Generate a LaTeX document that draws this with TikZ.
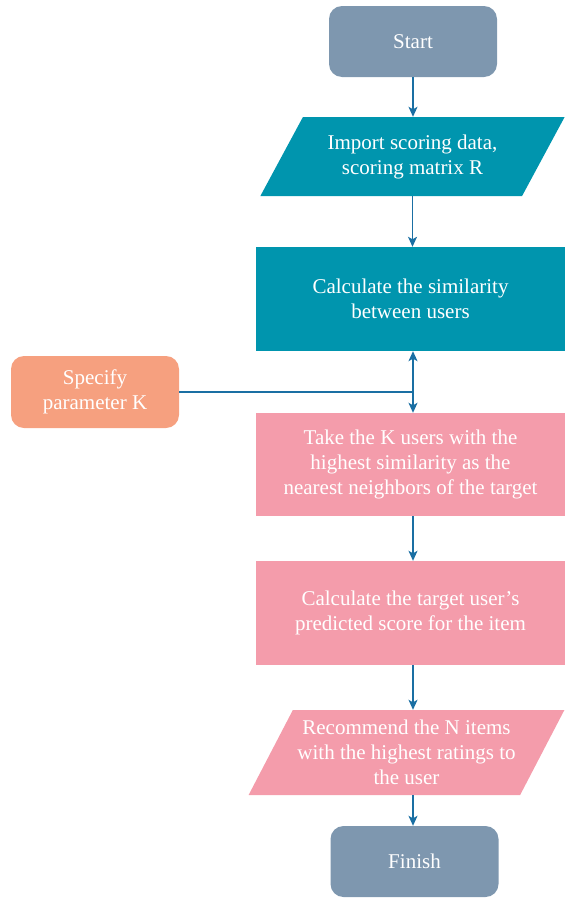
\documentclass[tikz,border=0pt]{standalone}
\usepackage{fontspec}
\setmainfont{Liberation Serif}
\usetikzlibrary{shapes.geometric,arrows.meta}
\definecolor{slate}{HTML}{7E97AF}
\definecolor{teal}{HTML}{0095AE}
\definecolor{salmon}{HTML}{F6A07F}
\definecolor{rose}{HTML}{F49CAB}
\definecolor{arrowblue}{HTML}{1A6FA3}
\begin{document}
\begin{tikzpicture}[x=1pt, y=-1pt, line join=round, >={Stealth[length=10pt,width=9pt,inset=2.5pt]},
  font=\fontsize{21}{25}\selectfont,
  term/.style={fill=slate, rounded corners=13pt, text=white, align=center, minimum width=168pt, minimum height=71pt},
  box/.style={text=white, align=center, minimum width=309pt, minimum height=104pt},
  io/.style={trapezium, trapezium stretches=true, text=white, align=center},
  flow/.style={draw=arrowblue, line width=1.4pt}]
 	\useasboundingbox (0,0) rectangle (565,900);
 	\node[term] (start) at (413,41.5) {Start};
 	\node[io, fill=teal, trapezium left angle=56, trapezium right angle=124,
 	  minimum width=305pt, minimum height=79pt] (import) at (412.5,156.5) {Import scoring data,\\scoring matrix R};
 	\node[box, fill=teal] (sim) at (410.5,299) {Calculate the similarity\\between users};
 	\node[term, fill=salmon, minimum height=72pt] (param) at (95,392) {Specify\\parameter K};
 	\node[box, fill=rose, minimum height=103pt] (knn) at (410.5,464.5) {Take the K users with the\\highest similarity as the\\nearest neighbors of the target};
 	\node[box, fill=rose] (pred) at (410.5,613) {Calculate the target user's\\predicted score for the item};
 	\node[io, fill=rose, trapezium left angle=58.5, trapezium right angle=121.5,
 	  minimum width=317pt, minimum height=85pt] (rec) at (406.5,752.5) {Recommend the N items\\with the highest ratings to\\the user};
 	\node[term] (finish) at (414.5,861.5) {Finish};
 	\coordinate (join) at (413,392);
 	\draw[flow,->] (start.south) -- (start.south |- import.north);
 	\draw[flow,->] (import.south) -- (import.south |- sim.north);
 	\draw[flow] (param.east) -- (join);
 	\draw[flow,->] (join) -- (join |- sim.south);
 	\draw[flow,->] (join) -- (join |- knn.north);
 	\draw[flow,->] (join |- knn.south) -- (join |- pred.north);
 	\draw[flow,->] (join |- pred.south) -- (join |- rec.north);
 	\draw[flow,->] (join |- rec.south) -- (join |- finish.north);
\end{tikzpicture}
\end{document}
